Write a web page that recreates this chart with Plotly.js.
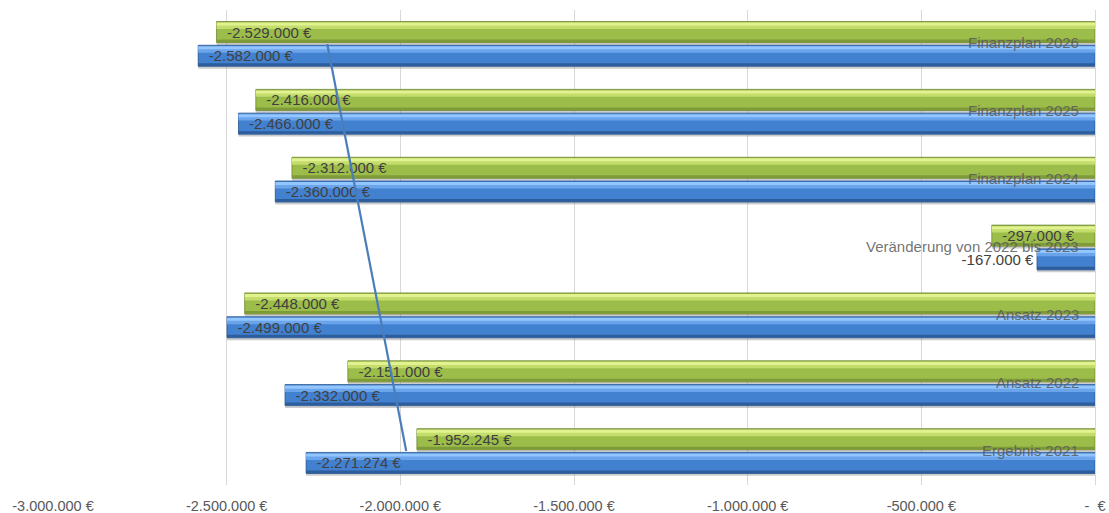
<!DOCTYPE html>
<html>
<head>
<meta charset="utf-8">
<script src="https://cdn.plot.ly/plotly-3.0.1.min.js"></script>
<style>html,body{margin:0;padding:0;background:#fff;}#chart{width:1109px;height:513px;}</style>
</head>
<body>
<div id="chart"></div>
<script>
// ---- data (bottom to top) ----
const categories = ["Ergebnis 2021", "Ansatz 2022", "Ansatz 2023", "Veränderung von 2022 bis 2023", "Finanzplan 2024", "Finanzplan 2025", "Finanzplan 2026"];
const greenValues = [-1952245, -2151000, -2448000, -297000, -2312000, -2416000, -2529000];
const blueValues  = [-2271274, -2332000, -2499000, -167000, -2360000, -2466000, -2582000];
const xTickVals  = [-3000000, -2500000, -2000000, -1500000, -1000000, -500000, 0];
const xTickText  = ["-3.000.000 €", "-2.500.000 €", "-2.000.000 €", "-1.500.000 €", "-1.000.000 €", "-500.000 €", "-  €"];

function fmt(v) {
  const s = Math.abs(Math.round(v)).toString().replace(/\B(?=(\d{3})+(?!\d))/g, ".");
  return (v < 0 ? "-" : "") + s + " €";
}

// linear trendline (least squares vs. category index) on the blue series
function linFit(vals) {
  const n = vals.length;
  const xs = vals.map((_, i) => i + 1);
  const mx = xs.reduce((a, b) => a + b, 0) / n;
  const my = vals.reduce((a, b) => a + b, 0) / n;
  let sxy = 0, sxx = 0;
  for (let i = 0; i < n; i++) { sxy += (xs[i] - mx) * (vals[i] - my); sxx += (xs[i] - mx) ** 2; }
  const b = sxy / sxx, a = my - b * mx;
  return x => a + b * x;
}
const fit = linFit(blueValues);

const FONT = "Liberation Sans, Arial, sans-serif";
const W = 0.31;
const G = {main: "#9dbd4b", hi1: "#e2f290", hi2: "#c3dd6c", dark: "#7f9b38", line: "#6c8530"};
const B = {main: "#4281d0", hi1: "#93c6ff", hi2: "#6aa5ec", dark: "#2d5d9a", line: "#2a5790"};

function bar(vals, color, offset, width, extra) {
  return Object.assign({
    type: "bar", orientation: "h", y: categories, x: vals,
    offset: offset, width: width, hoverinfo: "skip", showlegend: false,
    marker: {color: color, line: {width: 0}}
  }, extra || {});
}

const gOff = 0.02, bOff = -0.33;
const tf = {family: FONT, size: 15, color: "#404040"};
const textTrace = (vals, off) => bar(vals, "rgba(0,0,0,0)", off, W, {
  text: vals.map(v => "\u2002" + fmt(v)),
  textposition: "auto", insidetextanchor: "end", constraintext: "none",
  textfont: tf, insidetextfont: tf, outsidetextfont: tf,
  cliponaxis: false
});

function bevel(vals, off, C) {
  return [
    bar(vals, C.main, off, W, {marker: {color: C.main, line: {width: 0.8, color: C.line}}}),
    bar(vals, C.hi2, off + W - 0.11, 0.06),
    bar(vals, C.hi1, off + W - 0.06, 0.045),
    bar(vals, C.dark, off + 0.005, 0.04)
  ];
}

const traces = [
  bar(greenValues, "rgba(110,110,110,0.35)", gOff - 0.035, W),
  bar(blueValues, "rgba(110,110,110,0.35)", bOff - 0.035, W),
  ...bevel(greenValues, gOff, G),
  ...bevel(blueValues, bOff, B),
  textTrace(greenValues, gOff),
  textTrace(blueValues, bOff),
  {
    type: "scatter", mode: "lines", hoverinfo: "skip", showlegend: false,
    y: [categories[0], categories[categories.length - 1]],
    x: [fit(1), fit(categories.length)],
    line: {color: "#4a7ebb", width: 2.2}
  }
];

const annotations = categories.map(c => ({
  xref: "paper", yref: "y", x: 1, y: c, xanchor: "right", yanchor: "middle",
  xshift: -14, yshift: 1, showarrow: false, text: c,
  font: {family: FONT, size: 15, color: "rgba(89,89,89,0.85)"}
}));

const layout = {
  width: 1109, height: 513,
  margin: {l: 53, r: 14, t: 10, b: 28},
  paper_bgcolor: "#ffffff", plot_bgcolor: "#ffffff",
  barmode: "overlay",
  font: {family: FONT, color: "#595959"},
  annotations: annotations,
  xaxis: {
    range: [-3000000, 0], tickvals: xTickVals, ticktext: xTickText,
    showgrid: true, gridcolor: "#d9d9d9", gridwidth: 1,
    zeroline: true, zerolinecolor: "#d9d9d9", zerolinewidth: 1,
    showline: false, ticks: "", ticklabelstandoff: 10,
    tickfont: {size: 14.5, color: "#595959"}, fixedrange: true
  },
  yaxis: {
    type: "category", categoryorder: "array", categoryarray: categories,
    range: [-0.5, categories.length - 0.5],
    showticklabels: false, ticks: "",
    showgrid: false, zeroline: false, showline: false, fixedrange: true
  }
};

Plotly.newPlot("chart", traces, layout, {displayModeBar: false, staticPlot: true});
</script>
</body>
</html>
